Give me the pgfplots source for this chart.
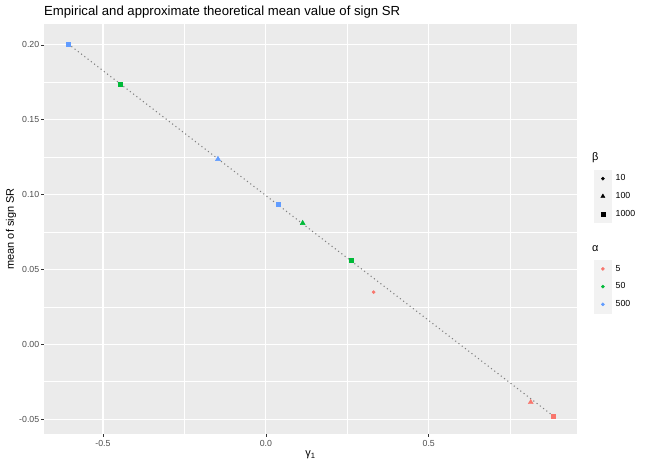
\documentclass[border=0pt]{standalone}
\usepackage{pgfplots}
\pgfplotsset{compat=1.18}
\usepackage{fontspec}
\setmainfont{Liberation Sans}

\definecolor{ggbg}{HTML}{EBEBEB}
\definecolor{ggred}{HTML}{F8766D}
\definecolor{gggreen}{HTML}{00BA38}
\definecolor{ggblue}{HTML}{619CFF}
\definecolor{ggtick}{HTML}{333333}
\definecolor{ggtext}{HTML}{4D4D4D}
\definecolor{ggkey}{HTML}{F2F2F2}

\pgfplotsset{
  keybox/.style={legend image code/.code={
      \fill[ggkey] (0bp,-8.65bp) rectangle (17.3bp,8.65bp);
      \draw[only marks] plot coordinates {(8.65bp,0bp)};}},
  pt/.style={only marks, mark=#1, forget plot},
}
\newcommand{\legtitle}[1]{\makebox[0pt][l]{\hspace*{-24bp}\fontsize{11}{13}\selectfont\smash{\lower0.6bp\hbox{#1}}}}

\begin{document}
\begin{tikzpicture}
\begin{axis}[
  at={(0,0)}, anchor=south west,
  scale only axis, width=533bp, height=410bp,
  xmin=-0.681, xmax=0.955, ymin=-0.060, ymax=0.214,
  axis background/.style={fill=ggbg},
  axis line style={draw=none},
  xtick={-0.5,0,0.5}, xticklabels={-0.5,0.0,0.5},
  ytick={-0.05,0,0.05,0.1,0.15,0.2},
  yticklabels={-0.05,0.00,0.05,0.10,0.15,0.20},
  minor xtick={-0.25,0.25,0.75},
  minor ytick={-0.025,0.025,0.075,0.125,0.175},
  grid=both,
  major grid style={white, line width=1.07bp},
  minor grid style={white, line width=0.53bp},
  tick align=outside, major tick length=2.75bp, minor tick length=0pt,
  xtick pos=bottom, ytick pos=left,
  tick style={ggtick, line width=0.53bp},
  ticklabel style={font=\fontsize{8.8}{10}\selectfont, text=ggtext},
  yticklabel style={xshift=1.5bp},
  /pgf/number format/assume math mode=true,
  title={Empirical and approximate theoretical mean value of sign SR},
  title style={at={(axis description cs:0,1.015)}, anchor=west,
    inner sep=0pt, font=\fontsize{13.2}{15}\selectfont},
  xlabel={γ\textsubscript{1}},
  xlabel style={at={(axis description cs:0.5,-0.051)}, anchor=center,
    inner sep=0pt, font=\fontsize{11}{13}\selectfont},
  ylabel={mean of sign SR},
  ylabel style={at={(axis description cs:-0.062,0.5)}, anchor=center,
    inner sep=0pt, font=\fontsize{11}{13}\selectfont},
  legend style={draw=none, fill=none,
    at={(axis description cs:1.026,0.692)}, anchor=north west,
    font=\fontsize{8.8}{10}\selectfont,
    row sep=0pt, column sep=4bp,
    nodes={inner sep=0pt, minimum height=17.3bp}},
  legend cell align=left,
]

% approximate theoretical value
\addplot[dash pattern=on 1.1bp off 3bp, color=black!50, line width=1.07bp, forget plot]
  coordinates {(-0.607,0.2007) (0.883,-0.0481)};

% empirical means, colour = alpha, shape = beta
\addplot[pt=square*, color=ggblue, mark size=2.1bp] coordinates {(-0.607,0.2007)};
\addplot[pt=square*, color=gggreen, mark size=2.1bp] coordinates {(-0.448,0.1738)};
\addplot[pt=triangle*, color=ggblue, mark size=2.9bp] coordinates {(-0.147,0.1237)};
\addplot[pt=square*, color=ggblue, mark size=2.1bp] coordinates {(0.037,0.0936)};
\addplot[pt=triangle*, color=gggreen, mark size=2.9bp] coordinates {(0.113,0.0809)};
\addplot[pt=square*, color=gggreen, mark size=2.1bp] coordinates {(0.261,0.0561)};
\addplot[pt=*, color=ggred, mark size=1.6bp] coordinates {(0.331,0.0348)};
\addplot[pt=triangle*, color=ggred, mark size=2.9bp] coordinates {(0.813,-0.0388)};
\addplot[pt=square*, color=ggred, mark size=2.1bp] coordinates {(0.883,-0.0481)};

% legends
\addlegendimage{empty legend}
\addlegendentry{\legtitle{β}}
\addlegendimage{keybox, only marks, mark=*, black, mark size=1.6bp}
\addlegendentry{10}
\addlegendimage{keybox, only marks, mark=triangle*, black, mark size=2.4bp}
\addlegendentry{100}
\addlegendimage{keybox, only marks, mark=square*, black, mark size=1.9bp}
\addlegendentry{1000}
\addlegendimage{empty legend}
\addlegendentry{\rule{0pt}{18.4bp}}
\addlegendimage{empty legend}
\addlegendentry{\legtitle{α}}
\addlegendimage{keybox, only marks, mark=*, ggred, mark size=1.6bp}
\addlegendentry{5}
\addlegendimage{keybox, only marks, mark=*, gggreen, mark size=1.6bp}
\addlegendentry{50}
\addlegendimage{keybox, only marks, mark=*, ggblue, mark size=1.6bp}
\addlegendentry{500}
\end{axis}
\pgfresetboundingbox
\path (-44bp,-34bp) rectangle (604bp,434bp);
\end{tikzpicture}
\end{document}
